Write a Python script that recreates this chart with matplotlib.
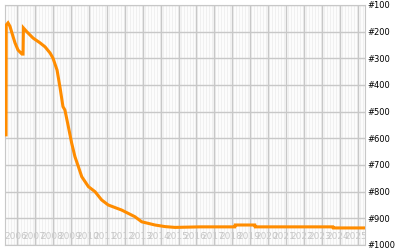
import numpy as np
import matplotlib.pyplot as plt

# rank history (decimal year, rank)
years = [2005.28, 2005.36, 2005.37, 2005.47, 2005.58, 2005.69, 2005.86, 2006.03,
         2006.25, 2006.31, 2006.33, 2006.53, 2006.87, 2007.26, 2007.54, 2007.82,
         2007.98, 2008.21, 2008.37, 2008.54, 2008.65, 2008.84, 2009.03, 2009.21,
         2009.40, 2009.59, 2009.96, 2010.33, 2010.70, 2011.07, 2011.82, 2012.56,
         2012.94, 2013.68, 2014.24, 2014.80, 2016.20, 2018.14, 2018.16, 2019.26,
         2019.28, 2023.62, 2023.64, 2025.42]
ranks = [587, 587, 175, 167, 180, 205, 242, 269,
         284, 284, 186, 201, 224, 242, 257, 280,
         299, 344, 407, 481, 494, 556, 619, 669,
         706, 744, 781, 800, 831, 850, 869, 894,
         913, 925, 931, 934, 932, 932, 925, 925,
         932, 932, 936, 936]

year_labels = [str(y) for y in range(2006, 2026)]
rank_ticks = [100, 200, 300, 400, 500, 600, 700, 800, 900, 1000]
rank_labels = ['#%d' % r for r in rank_ticks]

fig = plt.figure(figsize=(4, 2.5), dpi=100)
ax = fig.add_axes([5 / 400, 5 / 250, 360 / 400, 240 / 250])
ax.set_facecolor('#f0f0f0')

x0 = 2006 - 12.5 / 17.9
x1 = 2006 + (365 - 17.5) / 17.9
ax.set_xlim(x0, x1)
ax.set_ylim(1000, 100)

# thin white month lines
months = np.arange(2005, 2026, 1 / 12)
for m in months:
    ax.axvline(m, color='white', lw=0.6, zorder=1)

for i in range(len(year_labels)):
    ax.axvline(2006 + i, color='#c8c8c8', lw=1, zorder=2)
for r in rank_ticks:
    ax.axhline(r, color='#c8c8c8', lw=1, zorder=2)

for i, lab in enumerate(year_labels):
    ax.text(2006 + i - 0.1, 968, lab, color='#c8c8c8', fontsize=6.5,
            ha='center', va='center', zorder=3)

ax.plot(years, ranks, color='#ff8c00', lw=2.2, zorder=4,
        solid_joinstyle='miter')

ax.set_xticks([])
ax.set_yticks(rank_ticks)
ax.set_yticklabels(rank_labels, fontsize=6)
ax.yaxis.tick_right()
ax.tick_params(axis='y', length=0, pad=2)
for s in ax.spines.values():
    s.set_color('#c8c8c8')

fig.savefig('out.png', dpi=100)
